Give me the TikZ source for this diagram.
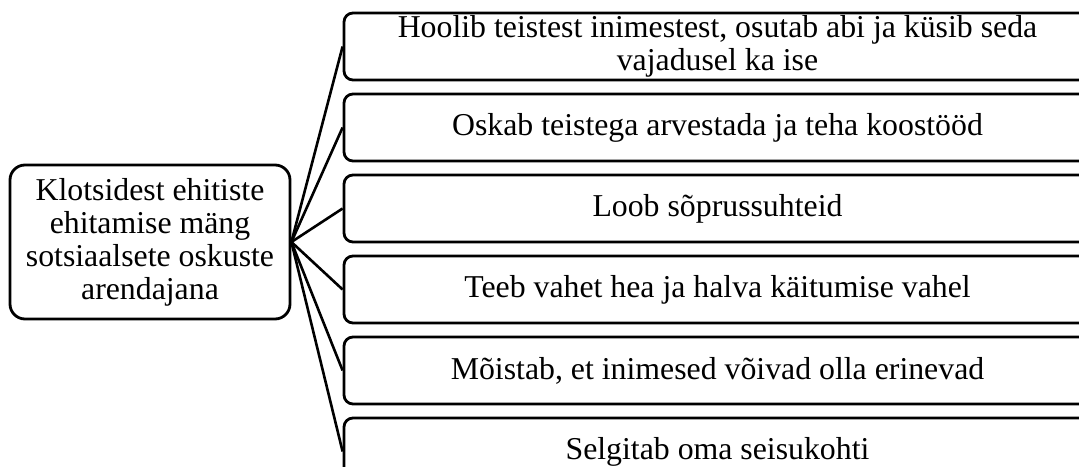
\documentclass[tikz,border=0pt]{standalone}
\usepackage{fontspec}
\setmainfont{Liberation Serif}
\usetikzlibrary{positioning}
\tikzset{
    base/.style={font=\fontsize{31.8}{33}\selectfont, align=center, text=black},
    topic/.style={base, rectangle, rounded corners=15pt, draw=black, line width=2.8pt,
                  minimum width=280pt, minimum height=154pt, inner sep=0pt},
    skill/.style={base, rectangle, rounded corners=9pt, draw=black, line width=2.8pt,
                  minimum width=747pt, minimum height=67pt, inner sep=0pt},
    link/.style={line width=2.6pt, color=black}
}

\begin{document}
\begin{tikzpicture}[x=1pt, y=1pt, node distance=11.2pt]
  \useasboundingbox (0,0) rectangle (1079,466);

  % Root box on the left
  \node[topic] (Mang) at (150,224) {Klotsidest ehitiste\\ehitamise mäng\\sotsiaalsete oskuste\\arendajana};

  % Column of skills on the right
  \node[skill] (S1) at (717.5,419.5) {Hoolib teistest inimestest, osutab abi ja küsib seda\\vajadusel ka ise};
  \node[skill, below=of S1] (S2) {Oskab teistega arvestada ja teha koostööd};
  \node[skill, below=of S2] (S3) {Loob sõprussuhteid};
  \node[skill, below=of S3] (S4) {Teeb vahet hea ja halva käitumise vahel};
  \node[skill, below=of S4] (S5) {Mõistab, et inimesed võivad olla erinevad};
  \node[skill, below=of S5] (S6) {Selgitab oma seisukohti};

  % Connectors
  \foreach \i in {1,...,6}
    \draw[link] (Mang.east) -- (S\i.west);
\end{tikzpicture}
\end{document}
